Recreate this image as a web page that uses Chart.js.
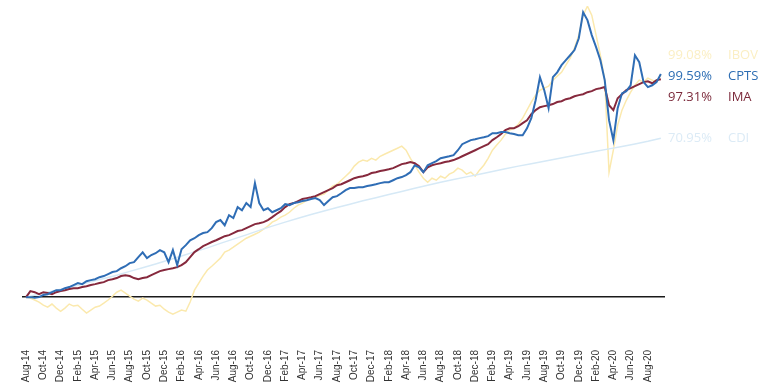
<!DOCTYPE html>
<html>
<head>
<meta charset="utf-8">
<script src="https://cdn.jsdelivr.net/npm/chart.js@4.4.1/dist/chart.umd.min.js"></script>
<style>
  html, body { margin: 0; padding: 0; background: #fff; }
  #wrap { width: 758px; height: 384px; }
</style>
</head>
<body>
<div id="wrap"><canvas id="chart"></canvas></div>
<script>
// tick labels, one every two months starting Aug-14
const monthTicks = [
  "Aug-14", "Oct-14", "Dec-14", "Feb-15", "Apr-15", "Jun-15", "Aug-15", "Oct-15", "Dec-15",
  "Feb-16", "Apr-16", "Jun-16", "Aug-16", "Oct-16", "Dec-16", "Feb-17", "Apr-17", "Jun-17",
  "Aug-17", "Oct-17", "Dec-17", "Feb-18", "Apr-18", "Jun-18", "Aug-18", "Oct-18", "Dec-18",
  "Feb-19", "Apr-19", "Jun-19", "Aug-19", "Oct-19", "Dec-19", "Feb-20", "Apr-20", "Jun-20", "Aug-20"
]

// cumulative return in %, one point every half month
const cpts = [
  0, 0, -0.3, 0, 1, 1.3, 2.2, 3.1, 3.1, 4,
  4.5, 5.4, 6.3, 5.8, 7.1, 7.6, 8, 8.9, 9.4, 10.3,
  11.2, 11.6, 12.9, 13.8, 15.2, 15.6, 17.9, 20, 17.4, 18.8,
  19.6, 21, 20, 15.6, 21, 14.3, 21.4, 23.2, 25.4, 26.3,
  27.7, 28.6, 29, 30.8, 33.5, 34.4, 32.1, 36.6, 35.3, 40.2,
  38.8, 42, 40.2, 50.9, 42, 38.8, 39.7, 37.9, 38.8, 39.7,
  41.5, 41.1, 42, 42.4, 42.9, 43.3, 43.8, 44.2, 43.3, 41.1,
  42.9, 44.6, 45.1, 46.4, 47.8, 48.7, 48.7, 49.1, 49.1, 49.6,
  50, 50.4, 50.9, 51.3, 51.3, 52.2, 53.1, 53.6, 54.5, 55.8,
  58.9, 58, 55.8, 58.9, 59.8, 60.7, 62, 62.5, 62.9, 63.4,
  65.6, 68.3, 69.2, 70.1, 70.5, 71, 71.4, 71.9, 73.2, 73.2,
  73.7, 73.7, 73.2, 72.8, 72.3, 72.3, 75.4, 79.9, 87.9, 98.2,
  92.4, 84.4, 98.2, 100.4, 103.6, 105.8, 108, 110.3, 115.6, 127.2,
  123.7, 117, 111.6, 105.8, 96.9, 79, 70.1, 84.4, 91, 92,
  94.6, 108, 104.9, 96, 93.8, 94.6, 96, 99.6
]
const ima = [
  0, 2.7, 2.2, 1.3, 2.2, 1.8, 1.3, 2.2, 2.7, 3.1,
  3.6, 4, 4, 4.5, 4.9, 5.4, 5.8, 6.3, 6.7, 7.6,
  8, 8.5, 9.4, 9.8, 9.4, 8.5, 8, 8.5, 8.9, 9.8,
  10.7, 11.6, 12.1, 12.5, 12.9, 13.4, 14.3, 15.6, 17.9, 20.1,
  21.4, 22.8, 23.7, 24.6, 25.4, 26.3, 27.2, 27.7, 28.6, 29.5,
  29.9, 30.8, 31.7, 32.6, 33, 33.5, 34.4, 35.7, 37.1, 38.4,
  40.2, 41.5, 42, 42.9, 43.8, 44.2, 44.6, 45.1, 46, 46.9,
  47.8, 48.7, 50, 50.4, 51.3, 52.2, 53.1, 53.6, 54, 54.5,
  55.4, 55.8, 56.3, 56.7, 57.1, 57.6, 58.5, 59.4, 59.8, 60.3,
  59.8, 58.5, 55.8, 58, 58.9, 59.4, 59.8, 60.3, 60.7, 61.2,
  62, 62.9, 63.8, 64.7, 65.6, 66.5, 67.4, 68.3, 70.1, 71.4,
  72.8, 74.6, 75.4, 75.4, 76.3, 77.7, 79, 81.7, 83.5, 84.8,
  85.3, 85.7, 86.2, 87.1, 87.5, 88.4, 88.8, 89.7, 90.2, 90.6,
  91.5, 92, 92.9, 93.3, 93.8, 85.7, 83.5, 88.8, 90.6, 92.4,
  93.3, 94.2, 95.1, 96, 96.4, 95.5, 96.9, 97.3
]
const ibov = [
  0, -0.4, -1.3, -2.2, -3.6, -4.5, -3.1, -4.9, -6.3, -4.9,
  -3.1, -4, -3.6, -5.4, -7.1, -5.8, -4.5, -4, -2.7, -1.3,
  0.4, 2.2, 3.1, 1.8, 0.4, -0.9, -1.8, -0.4, -1.3, -2.7,
  -4, -3.6, -5.4, -6.7, -7.6, -6.7, -5.8, -6.3, -2.2, 3.1,
  6.3, 9.4, 12.1, 13.8, 15.6, 17.4, 20.1, 21, 22.3, 23.7,
  25, 26.3, 27.2, 28.1, 29, 30.4, 31.7, 33.5, 34.4, 35.7,
  36.6, 37.9, 39.7, 41.1, 42, 43.3, 44.2, 44.6, 45.5, 46,
  47.8, 49.6, 50.4, 52.2, 54, 55.8, 58.5, 60.3, 61.2, 60.7,
  62, 61.2, 62.9, 63.8, 64.7, 65.6, 66.5, 67.4, 65.6, 62,
  58.9, 55.8, 53.1, 51.3, 53.1, 52.2, 54, 53.1, 54.9, 55.8,
  57.6, 56.7, 54.9, 55.8, 54, 56.7, 58.9, 62, 65.6, 67.9,
  70.1, 72.8, 74.6, 75.4, 77.2, 79.9, 83.5, 87.1, 90.2, 92.4,
  93.3, 94.2, 96.9, 98.7, 100.4, 103.6, 106.7, 111.2, 117, 125.9,
  129.9, 125.9, 117, 108, 96.9, 55.8, 65.6, 76.8, 83.5, 87.9,
  91.5, 94.6, 96.9, 96, 97.8, 96.9, 96, 99.1
]
// CDI is smooth, one point every month and a half
const cdi = [
  0, 1.3, 2.6, 4.0, 5.3, 6.8, 8.3, 9.8, 11.5, 13.1,
  14.8, 16.6, 18.4, 20.2, 22.0, 24.0, 25.9, 27.8, 29.8, 31.7,
  33.5, 35.2, 36.9, 38.5, 40.0, 41.5, 43.0, 44.4, 45.8, 47.2,
  48.6, 50.0, 51.3, 52.5, 53.7, 54.9, 56.1, 57.3, 58.5, 59.6,
  60.7, 61.8, 62.9, 64.0, 65.1, 66.2, 67.3, 68.4, 69.6, 70.95
]

const seriesNames = ["IBOV", "CPTS", "IMA", "CDI"]
const finalValues = [99.08, 99.59, 97.31, 70.95]

const toPoints = (arr, step) => arr.map((v, i) => ({ x: i * step, y: v }))

const endLabels = {
  id: "endLabels",
  afterDatasetsDraw(chart) {
    const ctx = chart.ctx
    const y = chart.scales.y
    const left = chart.chartArea.right + 3
    const colors = ["#fbefc4", "#2c6db3", "#7c2a3b", "#dcebf6"]
    const shift = [-20, 2, 18, 0] // labels are spread apart so they don't overlap
    ctx.save()
    ctx.font = "13px 'Open Sans'"
    ctx.textBaseline = "middle"
    finalValues.forEach((v, i) => {
      const yy = y.getPixelForValue(v) + shift[i]
      ctx.fillStyle = colors[i]
      ctx.fillText(v.toFixed(2) + "%", left, yy)
      ctx.fillText(seriesNames[i], left + 60, yy)
    })
    ctx.restore()
  }
}

new Chart(document.getElementById("chart"), {
  type: "line",
  data: {
    datasets: [{
        label: "CPTS",
        data: toPoints(cpts, 0.5),
        borderColor: "#2f6db5",
        borderWidth: 2
      },
      {
        label: "IMA",
        data: toPoints(ima, 0.5),
        borderColor: "#86293d",
        borderWidth: 2
      },
      {
        label: "CDI",
        data: toPoints(cdi, 1.5),
        borderColor: "#d6e9f6",
        borderWidth: 1.5
      },
      {
        label: "IBOV",
        data: toPoints(ibov, 0.5),
        borderColor: "#fbe9ad",
        borderWidth: 1.5
      }
    ]
  },
  options: {
    responsive: true,
    maintainAspectRatio: false,
    animation: false,
    layout: {
      padding: { left: 10, right: 93, top: 6, bottom: 0 }
    },
    elements: {
      point: { radius: 0 },
      line: { tension: 0 }
    },
    plugins: {
      legend: { display: false },
      tooltip: { enabled: false }
    },
    scales: {
      x: {
        type: "linear",
        min: -0.45,
        max: 73.98,
        grid: { display: false, drawTicks: false },
        border: { display: false },
        afterFit: s => { s.height = 60 },
        ticks: {
          stepSize: 2,
          includeBounds: false,
          autoSkip: false,
          minRotation: 90,
          maxRotation: 90,
          padding: 26,
          color: "#333",
          font: { family: "'Liberation Sans', Arial", size: 10 },
          callback: v => monthTicks[v / 2] ?? ""
        }
      },
      y: {
        min: -12,
        max: 130,
        afterFit: s => { s.width = 0 },
        ticks: { display: false, stepSize: 10 },
        border: { display: false },
        grid: {
          drawTicks: false,
          lineWidth: 1.5,
          color: c => c.tick.value === 0 ? "#1a1a1a" : "rgba(0,0,0,0)"
        }
      }
    }
  },
  plugins: [endLabels]
})
</script>
</body>
</html>
